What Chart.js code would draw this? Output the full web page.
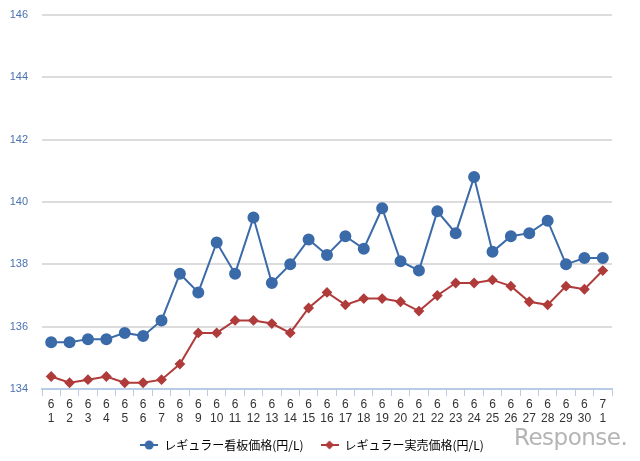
<!DOCTYPE html>
<html><head><meta charset="utf-8">
<script src="https://cdn.jsdelivr.net/npm/chart.js@4/dist/chart.umd.min.js"></script>
<style>
html,body{margin:0;padding:0;background:#fff;}
#wrap{position:relative;width:640px;height:461px;}
#logo{position:absolute;left:514px;top:424px;font:23px 'DejaVu Sans',sans-serif;color:#b4b4b4;letter-spacing:-0.5px;}
</style></head>
<body><div id="wrap"><canvas id="c" width="640" height="461"></canvas><div id="logo">Response.</div></div>
<script>
const months = ['6','6','6','6','6','6','6','6','6','6','6','6','6','6','6','6','6','6','6','6','6','6','6','6','6','6','6','6','6','6','7'];
const days = ['1','2','3','4','5','6','7','8','9','10','11','12','13','14','15','16','17','18','19','20','21','22','23','24','25','26','27','28','29','30','1'];
const signPrice = [135.5,135.5,135.6,135.6,135.8,135.7,136.2,137.7,137.1,138.7,137.7,139.5,137.4,138.0,138.8,138.3,138.9,138.5,139.8,138.1,137.8,139.7,139.0,140.8,138.4,138.9,139.0,139.4,138.0,138.2,138.2];
const actualPrice = [134.4,134.2,134.3,134.4,134.2,134.2,134.3,134.8,135.8,135.8,136.2,136.2,136.1,135.8,136.6,137.1,136.7,136.9,136.9,136.8,136.5,137.0,137.4,137.4,137.5,137.3,136.8,136.7,137.3,137.2,137.8];
const seriesNames = ['レギュラー看板価格(円/L)','レギュラー実売価格(円/L)'];
const yTicks = [134,136,138,140,142,144,146];

const BLUE = '#3b6aa9', RED = '#b03b3b';
function legendIcon(color, shape){
  const c = document.createElement('canvas'); c.width = 18; c.height = 12;
  const g = c.getContext('2d');
  g.strokeStyle = color; g.lineWidth = 2;
  g.beginPath(); g.moveTo(0,6); g.lineTo(18,6); g.stroke();
  g.fillStyle = color; g.beginPath();
  if (shape === 'circle') { g.arc(9,6,4.5,0,Math.PI*2); }
  else { g.moveTo(9,1.5); g.lineTo(13.5,6); g.lineTo(9,10.5); g.lineTo(4.5,6); g.closePath(); }
  g.fill();
  return c;
}
const icons = [legendIcon(BLUE,'circle'), legendIcon(RED,'diamond')];
const labels = months.map((m,i)=>[m, days[i]]);

new Chart(document.getElementById('c'), {
  type: 'line',
  data: {
    labels: labels,
    datasets: [
      {label: seriesNames[0], data: signPrice, borderColor: BLUE, backgroundColor: BLUE, borderWidth: 2, pointStyle: 'circle', pointRadius: 5, pointHoverRadius: 5, tension: 0},
      {label: seriesNames[1], data: actualPrice, borderColor: RED, backgroundColor: RED, borderWidth: 2, pointStyle: 'rectRot', pointRadius: 4, pointHoverRadius: 4, tension: 0}
    ]
  },
  options: {
    responsive: false, animation: false,
    layout: {padding: {left: 6, right: 22, top: 15, bottom: 0}},
    plugins: {
      tooltip: {enabled: false},
      legend: {
        position: 'bottom',
        labels: {
          usePointStyle: true, pointStyleWidth: 18, boxHeight: 12, padding: 17,
          color: '#333', font: {family: "'Noto Sans CJK JP', sans-serif", size: 12},
          generateLabels: (chart) => chart.data.datasets.map((d,i)=>({text: d.label, pointStyle: icons[i], fillStyle: d.borderColor, strokeStyle: d.borderColor, lineWidth: 0, datasetIndex: i, hidden: false}))
        }
      }
    },
    scales: {
      x: {
        offset: true,
        afterFit: (s) => { s.height = 33; s.paddingLeft = 0; s.paddingRight = 28; },
        grid: {offset: true, drawOnChartArea: false, drawTicks: true, tickLength: 7, color: '#b8cce4', lineWidth: 1},
        border: {color: '#b8cce4', width: 2},
        ticks: {color: '#333', font: {family: "'Liberation Sans', sans-serif", size: 12, lineHeight: 1.17}, padding: 2, maxRotation: 0, autoSkip: false}
      },
      y: {
        min: 134, max: 146,
        afterFit: (s) => { s.width = 36; s.paddingTop = 0; s.paddingBottom = 0; },
        afterBuildTicks: (s) => { s.ticks = yTicks.map(v=>({value: v})); },
        grid: {drawTicks: false, color: '#dcdcdc', lineWidth: 2},
        border: {display: false},
        ticks: {color: '#4a72b0', padding: 14, font: {family: "'Liberation Sans', sans-serif", size: 11}}
      }
    }
  }
});
</script></body></html>
